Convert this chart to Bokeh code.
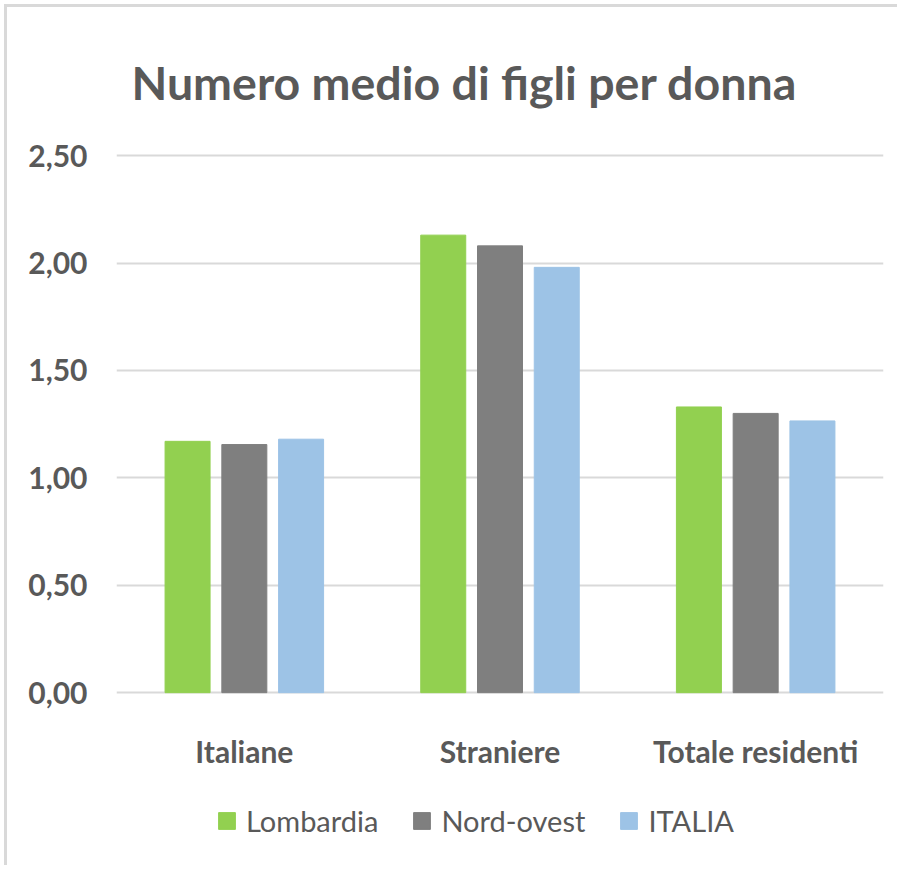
from bokeh.plotting import figure
from bokeh.models import FactorRange, Range1d, Legend, LegendItem, ColumnDataSource, FixedTicker
from bokeh.core.properties import value
from bokeh.transform import dodge
from bokeh.embed import file_html
from bokeh.resources import INLINE

categories = ["Italiane", "Straniere", "Totale residenti"]
series = ["Lombardia", "Nord-ovest", "ITALIA"]
lombardia = [1.17, 2.13, 1.33]
nord_ovest = [1.155, 2.08, 1.30]
italia = [1.18, 1.98, 1.265]
colors = ["#92D050", "#7F7F7F", "#9DC3E6"]
y_ticks = [0.0, 0.5, 1.0, 1.5, 2.0, 2.5]
y_tick_labels = ["0,00", "0,50", "1,00", "1,50", "2,00", "2,50"]
title_text = "Numero medio di figli per donna"

TEXT = "#595959"
FONT = "Lato"

src = ColumnDataSource(dict(cat=categories, Lombardia=lombardia,
                            **{"Nord-ovest": nord_ovest}, ITALIA=italia))

p = figure(x_range=FactorRange(factors=categories, range_padding=0),
           y_range=Range1d(-0.8, 2.51),
           width=893, height=861, output_backend="svg", toolbar_location=None,
           min_border_left=109, min_border_right=17, min_border_top=146, min_border_bottom=4,
           styles={"margin-left": "4px", "margin-top": "4px",
                   "border-left": "3px solid #D9D9D9", "border-top": "3px solid #D9D9D9"})

p.title.text = title_text
p.title.text_font = FONT
p.title.text_font_size = "46.5px"
p.title.text_font_style = "bold"
p.title.text_color = TEXT
p.title.align = "left"
p.title.offset = 15
p.title.standoff = 88

offsets = [-0.222, 0.0, 0.222]
renderers = []
for name, col, off in zip(series, colors, offsets):
    r = p.vbar(x=dodge("cat", off, range=p.x_range), top=name, bottom=0, width=0.176,
               source=src, fill_color=col, line_color=col, line_width=1)
    renderers.append(r)

# category labels below the zero line
p.text(x="cat", y=-0.27, text="cat", source=src,
       text_font=value(FONT), text_font_size="30px", text_font_style="bold",
       text_color=TEXT, text_align="center", text_baseline="alphabetic")

p.outline_line_color = None
p.xgrid.grid_line_color = None
p.ygrid.grid_line_color = "#D9D9D9"
p.ygrid.grid_line_width = 2
p.xaxis.visible = False

p.yaxis.ticker = FixedTicker(ticks=y_ticks)
p.ygrid.ticker = FixedTicker(ticks=y_ticks)
p.yaxis.major_label_overrides = {t: l for t, l in zip(y_ticks, y_tick_labels)}
p.yaxis.axis_line_color = None
p.yaxis.major_tick_line_color = None
p.yaxis.minor_tick_line_color = None
p.yaxis.major_label_standoff = 23
p.yaxis.major_label_text_font = FONT
p.yaxis.major_label_text_font_size = "30px"
p.yaxis.major_label_text_font_style = "bold"
p.yaxis.major_label_text_color = TEXT

legend = Legend(items=[LegendItem(label=n, renderers=[r]) for n, r in zip(series, renderers)],
                orientation="horizontal", location=(100, 26),
                glyph_width=21, glyph_height=21, label_standoff=9, spacing=33,
                padding=0, margin=0, border_line_color=None, background_fill_alpha=0,
                label_text_font=FONT, label_text_font_size="29px", label_text_color=TEXT)
p.add_layout(legend, "center")

open("out.html", "w").write(file_html(p, INLINE))
